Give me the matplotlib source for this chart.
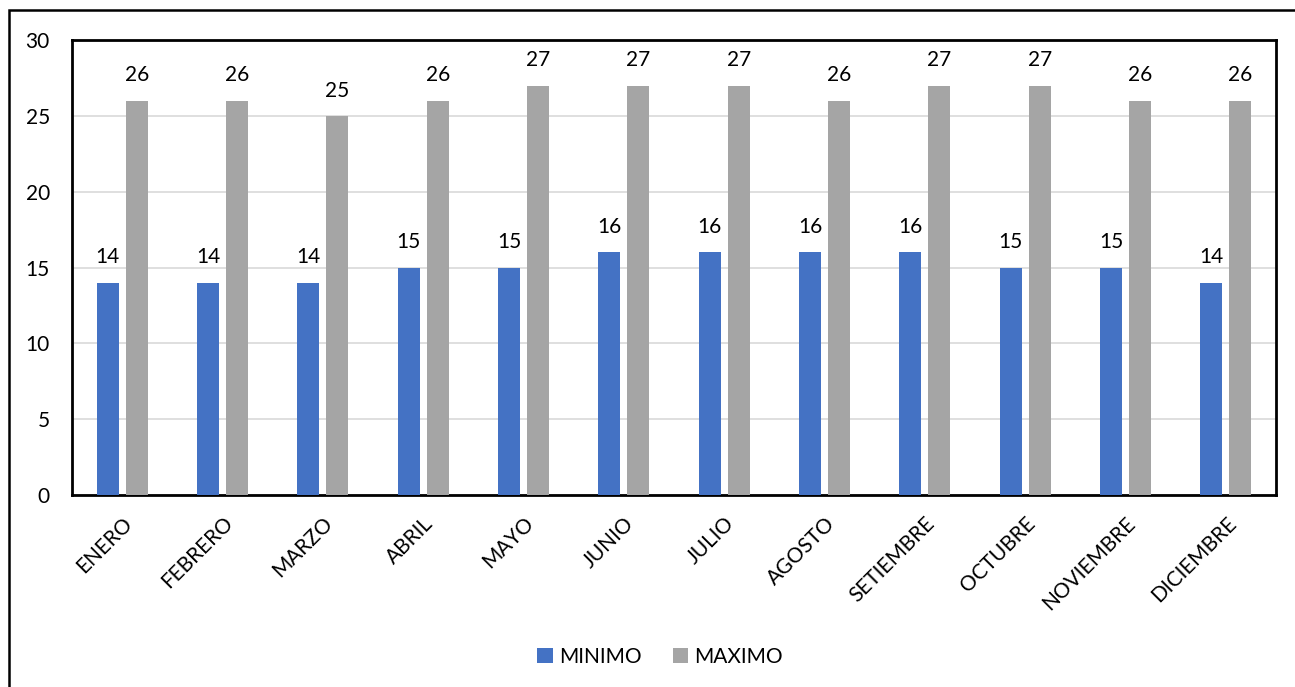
import numpy as np
import matplotlib.pyplot as plt
from matplotlib.patches import Rectangle

plt.rcParams['font.family'] = ['Lato', 'DejaVu Sans']

meses = ["ENERO", "FEBRERO", "MARZO", "ABRIL", "MAYO", "JUNIO", "JULIO",
         "AGOSTO", "SETIEMBRE", "OCTUBRE", "NOVIEMBRE", "DICIEMBRE"]
minimo = [14, 14, 14, 15, 15, 16, 16, 16, 16, 15, 15, 14]
maximo = [26, 26, 25, 26, 27, 27, 27, 26, 27, 27, 26, 26]

W, H = 1295, 687
fig = plt.figure(figsize=(W / 100, H / 100), dpi=100)
ax = fig.add_axes([72 / W, 1 - 495 / H, (1276 - 72) / W, (495 - 40) / H])

# marco exterior
fig.patches.append(Rectangle((9 / W, -0.1), 1.2, 1 - 10 / H + 0.1, transform=fig.transFigure,
                             fill=False, edgecolor='black', linewidth=1.8))

x = np.arange(len(meses))
w = 0.22
b1 = ax.bar(x - 0.145, minimo, w, color='#4472C4', label='MINIMO', zorder=3)
b2 = ax.bar(x + 0.145, maximo, w, color='#A5A5A5', label='MAXIMO', zorder=3)
ax.bar_label(b1, padding=11, fontsize=15)
ax.bar_label(b2, padding=11, fontsize=15)

ax.set_xlim(-0.5, len(meses) - 0.5)
ax.set_ylim(0, 30)
ax.set_yticks(range(0, 31, 5))
ax.yaxis.grid(True, color='#d9d9d9', linewidth=1.2, zorder=0)
ax.set_xticks(x)
ax.set_xticklabels(meses, rotation=45, ha='right', rotation_mode='anchor', fontsize=15)
ax.tick_params(axis='both', length=0, labelsize=15)
ax.tick_params(axis='y', pad=16)
ax.tick_params(axis='x', pad=13)
for s in ax.spines.values():
    s.set_linewidth(2)
    s.set_color('black')

fig.legend(handles=[b1, b2], loc='center', bbox_to_anchor=(660 / W, 1 - 657 / H), ncol=2,
           frameon=False, fontsize=15, handlelength=0.75, handleheight=0.75,
           handletextpad=0.3, columnspacing=1.5)

fig.savefig('out.png', dpi=100)
